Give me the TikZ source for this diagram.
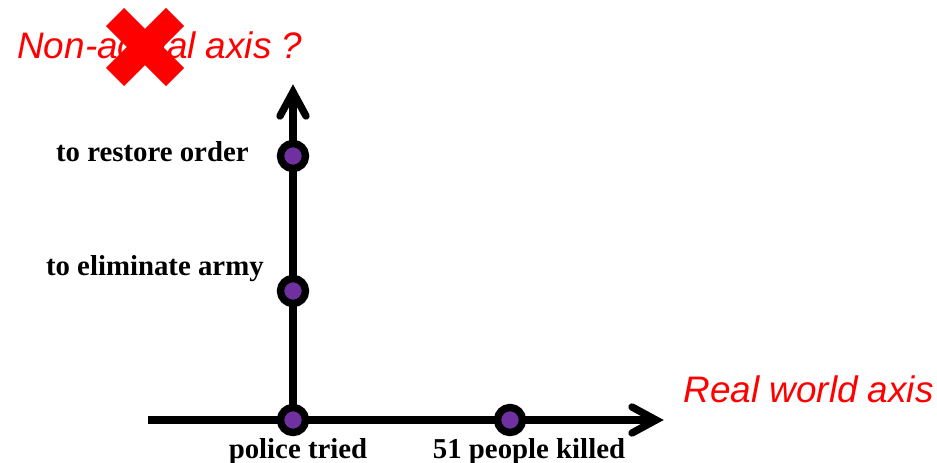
\documentclass[tikz,border=0pt]{standalone}
\usepackage{fontspec}
\setmainfont{Liberation Serif}
\newfontfamily\arialfont{Liberation Sans}
\usetikzlibrary{calc}
\definecolor{dotpurple}{HTML}{7030A0}
\begin{document}
\begin{tikzpicture}[x=0.02cm,y=-0.02cm,
  axisline/.style={line width=4pt, line cap=butt},
  chevron/.style={line width=4.2pt, line cap=round, line join=miter},
  evdot/.style={circle, fill=dotpurple, draw=black, line width=4.2pt, minimum size=0.5cm, inner sep=0pt},
  evlabel/.style={font=\fontsize{16.4}{18}\selectfont\bfseries, inner sep=0pt},
  redlabel/.style={text=red, font=\arialfont\itshape\fontsize{21}{24}\selectfont, inner sep=0pt},
  crossbar/.style={red, line width=14.6pt, line cap=butt}]
\useasboundingbox (0,0) rectangle (937,463);
\coordinate (hstart) at (148,420);
\coordinate (htip) at (656,420);
\coordinate (hend) at (652,420);
\coordinate (vtip) at (293,92);
\coordinate (vend) at (293,96);
\coordinate (p0c) at (293,420);
\draw[axisline] (hstart) -- (hend);
\draw[axisline] (p0c) -- (vend);
\draw[chevron] ($(htip)+(-24,-13)$) -- (htip) -- ($(htip)+(-24,13)$);
\draw[chevron] ($(vtip)+(-13,24)$) -- (vtip) -- ($(vtip)+(13,24)$);
\node[evdot] (p0) at (p0c) {};
\node[evdot] (p1) at (293,291) {};
\node[evdot] (p2) at (293,156) {};
\node[evdot] (p3) at (510,420) {};
\node[evlabel, anchor=east] (l2) at (249,152) {to restore order};
\node[evlabel, anchor=east] (l1) at (264,269) {to eliminate army};
\node[evlabel, anchor=north] (l0) at (298,438) {police tried};
\node[evlabel, anchor=north] (l3) at (529,438) {51 people killed};
\node[redlabel, anchor=west] (na) at (17,45) {Non-actual axis ?};
\node[redlabel, anchor=east] (rw) at (934,389) {Real world axis};
\coordinate (xa) at (115,17);
\coordinate (xb) at (175,77);
\coordinate (xc) at (175,17);
\coordinate (xd) at (115,77);
\draw[crossbar] (xa) -- (xb);
\draw[crossbar] (xc) -- (xd);
\end{tikzpicture}
\end{document}
